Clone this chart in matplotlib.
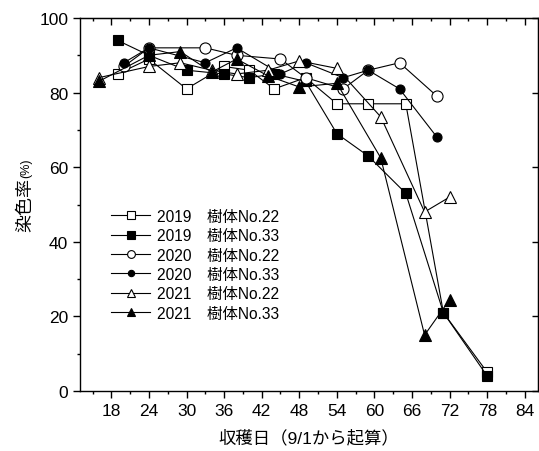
import matplotlib
matplotlib.use("Agg")
import matplotlib.pyplot as plt
from matplotlib.ticker import MultipleLocator

plt.rcParams['font.family'] = ['Liberation Sans', 'Noto Sans CJK JP', 'DejaVu Sans']

# 2019
days_2019 = [19, 24, 30, 36, 40, 44, 49, 54, 59, 65, 71, 78]
no22_2019 = [85, 89, 81, 87, 86, 81, 84, 77, 77, 77, 21, 5]
no33_2019 = [94, 90, 86, 85, 84, 85, 83, 69, 63, 53, 21, 4]

# 2020
days_2020 = [20, 24, 33, 38, 45, 49, 55, 59, 64, 70]
no22_2020 = [87, 92, 92, 90, 89, 84, 81, 86, 88, 79]
no33_2020 = [88, 92, 88, 92, 85, 88, 84, 86, 81, 68]

# 2021
days_2021 = [16, 24, 29, 34, 38, 43, 48, 54, 61, 68, 72]
no22_2021 = [84, 87, 88, 86, 85, 86, 88.5, 86.5, 73.5, 48, 52]
no33_2021 = [83, 90, 91, 85.5, 89, 84.5, 81.5, 82.5, 62.5, 15, 24.5]

labels = ['2019\u3000樹体No.22', '2019\u3000樹体No.33',
          '2020\u3000樹体No.22', '2020\u3000樹体No.33',
          '2021\u3000樹体No.22', '2021\u3000樹体No.33']

fig = plt.figure(figsize=(5.39, 4.52), dpi=100)
ax = fig.add_axes([80 / 539, 1 - 392 / 452, 458 / 539, 373 / 452])

lw = 0.8
series = [
    (days_2019, no22_2019, 's', 'white', 7.5),
    (days_2019, no33_2019, 's', 'black', 7.5),
    (days_2020, no22_2020, 'o', 'white', 8),
    (days_2020, no33_2020, 'o', 'black', 6.5),
    (days_2021, no22_2021, '^', 'white', 9),
    (days_2021, no33_2021, '^', 'black', 9),
]
for (x, y, m, fc, ms), lab in zip(series, labels):
    ax.plot(x, y, color='black', lw=lw, marker=m, markerfacecolor=fc,
            markeredgecolor='black', markeredgewidth=0.8, markersize=ms,
            label=lab)

ax.set_xlim(13, 86.1)
ax.set_ylim(0, 100)
ax.xaxis.set_major_locator(MultipleLocator(6))
ax.xaxis.set_minor_locator(MultipleLocator(3))
ax.yaxis.set_major_locator(MultipleLocator(20))
ax.yaxis.set_minor_locator(MultipleLocator(10))
ax.set_xticks(range(18, 85, 6))
ax.tick_params(which='major', direction='out', length=5, width=1, labelsize=12.5)
ax.tick_params(which='minor', direction='out', length=2.5, width=1)
for s in ax.spines.values():
    s.set_linewidth(1)

top = ax.secondary_xaxis('top')
top.xaxis.set_major_locator(MultipleLocator(6))
top.xaxis.set_minor_locator(MultipleLocator(3))
top.tick_params(which='major', direction='in', length=5, width=1, labeltop=False)
top.tick_params(which='minor', direction='in', length=2.5, width=1)

right = ax.secondary_yaxis('right')
right.yaxis.set_major_locator(MultipleLocator(20))
right.tick_params(which='major', direction='in', length=4, width=1, labelright=False)

ax.set_xlabel('収穫日（9/1から起算）', fontsize=12.5, labelpad=8)
fig.text(26 / 539, 1 - 205 / 452, '染色率', rotation=90, fontsize=13,
         ha='center', va='center')
fig.text(26 / 539, 1 - 168 / 452, '(%)', rotation=90, fontsize=9,
         ha='center', va='center')

ax.legend(loc='upper left', bbox_to_anchor=(0.055, 0.505), frameon=False,
          fontsize=11.2, handlelength=2.5, handletextpad=0.45,
          labelspacing=0.28, markerscale=0.7, borderaxespad=0)

fig.savefig('out.png', dpi=100)
